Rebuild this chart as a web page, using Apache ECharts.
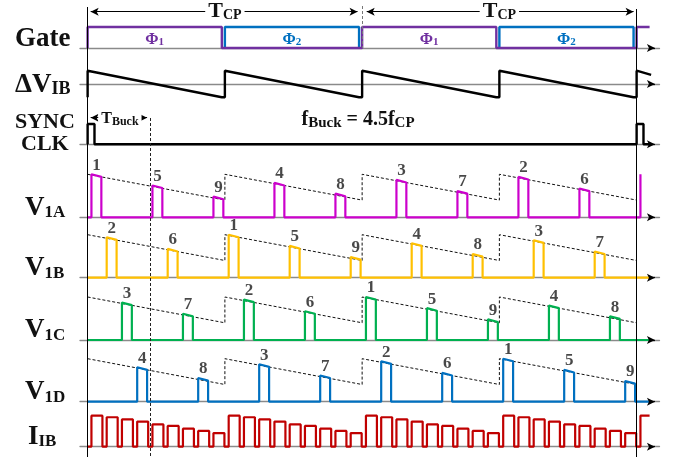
<!DOCTYPE html>
<html><head><meta charset="utf-8">
<script src="https://cdn.jsdelivr.net/npm/echarts@6/dist/echarts.min.js"></script>
<style>html,body{margin:0;padding:0;background:#fff}#c{width:681px;height:462px}</style>
</head><body><div id="c"></div>
<script>
// Time unit: one interleave slot = T_Buck/4 ; T_CP = 18 slots (f_Buck = 4.5 f_CP)
const PHASE_NAMES = ['1', '2', '1', '2'];          // Φ subscript
const PHASE_START = [0, 9, 18, 27];
const PHASE_END   = [8.8, 17.8, 26.8, 35.8];
const GATE_TAIL   = [[36, 0], [36, 1], [36.85, 1]];

const DV_T = [0, 0, 8.8, 9, 9, 17.8, 18, 18, 26.8, 27, 27, 35.8, 36, 36, 36.95];
const DV_V = [-1, 1, -1, -1, 1, -1, -1, 1, -1, -1, 1, -1, -1, 1, 0.68];

const SYNC_T = [0, 0, 0.45, 0.45, 36, 36, 36.45, 36.45, 36.85];
const SYNC_V = [0, 1, 1, 0, 0, 1, 1, 0, 0];

// pulse heights by pulse number 1..9 (normalised to the envelope peak)
const PULSE_HEIGHT = [1.00, 0.94, 0.87, 0.80, 0.74, 0.67, 0.61, 0.55, 0.48];
const IIB_HEIGHT   = [1.00, 0.95, 0.88, 0.81, 0.72, 0.67, 0.58, 0.51, 0.44];
const ENV_T = [0, 9, 9, 18, 18, 27, 27, 36];
const ENV_V = [1.0, 0.40, 1.0, 0.40, 1.0, 0.40, 1.0, 0.40];

const V1A_START = [0.25, 4.25, 8.25, 12.25, 16.25, 20.25, 24.25, 28.25, 32.25];
const V1A_NUM   = [1, 5, 9, 4, 8, 3, 7, 2, 6];
const V1A_TAIL  = [[36.25, 0], [36.25, 1.0]];
const V1B_START = [1.25, 5.25, 9.25, 13.25, 17.25, 21.25, 25.25, 29.25, 33.25];
const V1B_NUM   = [2, 6, 1, 5, 9, 4, 8, 3, 7];
const V1C_START = [2.25, 6.25, 10.25, 14.25, 18.25, 22.25, 26.25, 30.25, 34.25];
const V1C_NUM   = [3, 7, 2, 6, 1, 5, 9, 4, 8];
const V1D_START = [3.25, 7.25, 11.25, 15.25, 19.25, 23.25, 27.25, 31.25, 35.25];
const V1D_NUM   = [4, 8, 3, 7, 2, 6, 1, 5, 9];
const FLAT_TAIL = [[36.85, 0]];

const IIB_START = [0.25,1.25,2.25,3.25,4.25,5.25,6.25,7.25,8.25,9.25,10.25,11.25,12.25,13.25,14.25,15.25,16.25,17.25,
                   18.25,19.25,20.25,21.25,22.25,23.25,24.25,25.25,26.25,27.25,28.25,29.25,30.25,31.25,32.25,33.25,34.25,35.25];
const IIB_NUM   = [1,2,3,4,5,6,7,8,9,1,2,3,4,5,6,7,8,9,1,2,3,4,5,6,7,8,9,1,2,3,4,5,6,7,8,9];
const IIB_TAIL  = [[36.25, 0], [36.25, 1.0], [36.85, 1.0]];

const T_BUCK_MARK = 4.1;
const T_CP_EDGES = [0, 18, 36];

// ---------- layout ----------
const FONT = '"Liberation Serif","Times New Roman",serif';
const X0 = 80, XW = 579.5, XMIN = -0.5, XMAX = 37.5;
const PULSE_W = 0.65, IIB_W = 0.72, DROOP = 0.06;
const ROWS = [ // base pixel, pixels per unit, y range
  {base: 48,    unit: 21,   min: 0,    max: 1},
  {base: 84,    unit: 13.3, min: -1.2, max: 1.2},
  {base: 144.3, unit: 20.3, min: 0,    max: 1},
  {base: 217.3, unit: 43,   min: 0,    max: 1},
  {base: 277.7, unit: 43,   min: 0,    max: 1},
  {base: 340,   unit: 43,   min: 0,    max: 1},
  {base: 401.7, unit: 43,   min: 0,    max: 1},
  {base: 446.7, unit: 31,   min: 0,    max: 1}
];
const C = {p1:'#7030A0', p2:'#0070C0', a:'#CC00CC', b:'#FFC000', c:'#00B050', d:'#0070C0', i:'#C00000'};

const grids = [], xAxes = [], yAxes = [];
ROWS.forEach((r, i) => {
  const top = r.base - r.max * r.unit;
  grids.push({left: X0, top: top, width: XW, height: (r.max - r.min) * r.unit});
  xAxes.push({type:'value', gridIndex:i, min:XMIN, max:XMAX,
    axisLine:{show:true, onZero:true, lineStyle:{color:'#8a8a8a', width:1.3}},
    axisTick:{show:false}, axisLabel:{show:false}, splitLine:{show:false}});
  yAxes.push({type:'value', gridIndex:i, min:r.min, max:r.max, show:false});
});
// overlay grid for annotations (y in page pixels)
grids.push({left: X0, top: 0, width: XW, height: 462});
xAxes.push({type:'value', gridIndex:8, min:XMIN, max:XMAX, show:false});
yAxes.push({type:'value', gridIndex:8, min:0, max:462, inverse:true, show:false});

function lineSeries(i, data, color, width, extra) {
  return Object.assign({type:'line', xAxisIndex:i, yAxisIndex:i, data:data, showSymbol:false, symbol:'none',
    clip:false, silent:true, z:3, lineStyle:{color:color, width:width}}, extra || {});
}
function zip(t, v) { return t.map((x, k) => [x, v[k]]); }
function pulses(starts, nums, heights, w, droop, tail) {
  const d = [[0, 0]];
  starts.forEach((s, k) => { const h = heights[nums[k] - 1]; d.push([s, 0], [s, h], [s + w, h - droop], [s + w, 0]); });
  tail.forEach(p => d.push(p));
  return d;
}
function labels(i, starts, nums) {
  return {type:'scatter', xAxisIndex:i, yAxisIndex:i, silent:true, symbolSize:1, z:5,
    itemStyle:{color:'transparent'},
    data: starts.map((s, k) => [s + PULSE_W / 2, PULSE_HEIGHT[nums[k] - 1], nums[k]]),
    label:{show:true, position:'top', distance:0, formatter: p => String(p.value[2]),
      fontFamily:FONT, fontWeight:'bold', fontSize:17, color:'#1a1a1a'}};
}

const series = [];
// Gate
PHASE_START.forEach((s, k) => {
  if (k % 2 === 1) series.push(lineSeries(0, [[s,0],[s,1],[PHASE_END[k],1],[PHASE_END[k],0]], C.p2, 2.4));
});
(function(){
  const d = [];
  PHASE_START.forEach((s, k) => {
    if (k % 2 === 0) d.push([s,0],[s,1],[PHASE_END[k],1],[PHASE_END[k],0]);
  });
  GATE_TAIL.forEach(p => d.push(p));
  series.push(lineSeries(0, d, C.p1, 2.4, {z:4}));
})();
series.push(lineSeries(1, zip(DV_T, DV_V), '#000', 2.4));
series.push(lineSeries(2, zip(SYNC_T, SYNC_V), '#000', 2.4));

const VROWS = [
  [3, V1A_START, V1A_NUM, C.a, V1A_TAIL],
  [4, V1B_START, V1B_NUM, C.b, FLAT_TAIL],
  [5, V1C_START, V1C_NUM, C.c, FLAT_TAIL],
  [6, V1D_START, V1D_NUM, C.d, FLAT_TAIL]
];
VROWS.forEach(([i, st, nm, col, tail]) => {
  series.push(lineSeries(i, zip(ENV_T, ENV_V), '#111', 1, {z:2, lineStyle:{color:'#111', width:1, type:[3,2]}}));
  series.push(lineSeries(i, pulses(st, nm, PULSE_HEIGHT, PULSE_W, DROOP, tail), col, 2.2));
  series.push(labels(i, st, nm));
});
series.push(lineSeries(7, pulses(IIB_START, IIB_NUM, IIB_HEIGHT, IIB_W, 0, IIB_TAIL), C.i, 2.2));

// annotations
series.push({type:'line', xAxisIndex:8, yAxisIndex:8, data:[[0,-50]], symbol:'none', silent:true, z:6,
  lineStyle:{opacity:0},
  markLine:{silent:true, symbol:['none','none'], label:{show:false}, animation:false,
    lineStyle:{color:'#000', width:1, type:'solid'}, emphasis:{disabled:true},
    data:[
      [{coord:[T_CP_EDGES[0], 7]}, {coord:[T_CP_EDGES[0], 457]}],
      [{coord:[T_CP_EDGES[2], 9]}, {coord:[T_CP_EDGES[2], 457]}],
      [{coord:[T_CP_EDGES[1], 6], lineStyle:{type:[3,2], color:'#777'}}, {coord:[T_CP_EDGES[1], 48]}],
      [{coord:[T_BUCK_MARK, 118], lineStyle:{type:[3,2], color:'#222'}}, {coord:[T_BUCK_MARK, 457]}]
    ]}});
series.push({type:'line', xAxisIndex:8, yAxisIndex:8, data:[[0,-50]], symbol:'none', silent:true, z:6,
  lineStyle:{opacity:0},
  markLine:{silent:true, symbol:['arrow','arrow'], symbolSize:[6,8], label:{show:false}, animation:false,
    lineStyle:{color:'#000', width:1, type:'solid'}, emphasis:{disabled:true},
    data:[
      [{coord:[T_CP_EDGES[0] + 0.2, 11.7]}, {coord:[T_CP_EDGES[1] - 0.3, 11.7]}],
      [{coord:[T_CP_EDGES[1] + 0.3, 11.7]}, {coord:[T_CP_EDGES[2] - 0.2, 11.7]}],
      [{coord:[0.2, 117.7]}, {coord:[T_BUCK_MARK - 0.2, 117.7]}]
    ]}});
series.push({type:'line', xAxisIndex:8, yAxisIndex:8, data:[[0,-50]], symbol:'none', silent:true, z:6,
  lineStyle:{opacity:0},
  markLine:{silent:true, symbol:['none','arrow'], symbolSize:[6,8], label:{show:false}, animation:false,
    lineStyle:{color:'#000', width:1.3, type:'solid'}, emphasis:{disabled:true},
    data: ROWS.map(r => [{coord:[36.85, r.base]}, {coord:[37.2, r.base]}])}});

const chart = echarts.init(document.getElementById('c'), null, {renderer:'canvas', width:681, height:462});
chart.setOption({animation:false, backgroundColor:'#fff', grid:grids, xAxis:xAxes, yAxis:yAxes, series:series});

// ---------- texts ----------
const ctx = document.createElement('canvas').getContext('2d');
function fontOf(p){ return (p.bold === false ? '' : 'bold ') + p.size + 'px ' + FONT; }
function tw(p){ ctx.font = fontOf(p); return ctx.measureText(p.t).width; }
function run(x, parts, opts) {
  opts = opts || {};
  const widths = parts.map(tw);
  const total = widths.reduce((a, b) => a + b, 0);
  let cx = opts.center ? x - total / 2 : x;
  const els = [];
  if (opts.bg) {
    els.push({type:'rect', z:99, silent:true, shape:{x: cx - 3, y: opts.bg[0], width: total + 6, height: opts.bg[1] - opts.bg[0]},
      style:{fill:'#fff'}});
  }
  parts.forEach((p, k) => {
    els.push({type:'text', z:100, silent:true, x: cx, y: p.b - 0.3375 * p.size,
      style:{text:p.t, font:fontOf(p), fill:p.color || '#111', textAlign:'left', textVerticalAlign:'middle', verticalAlign:'middle'}});
    cx += widths[k];
  });
  return els;
}
const px = (t, y) => chart.convertToPixel({xAxisIndex:8, yAxisIndex:8}, [t, y]);
let G = [];
G = G.concat(run(15, [{t:'Gate', size:27, b:48.3}]));
G = G.concat(run(15, [{t:'ΔV', size:27, b:94}, {t:'IB', size:18, b:95.5}]));
G = G.concat(run(15, [{t:'SYNC', size:22, b:130}]));
G = G.concat(run(21, [{t:'CLK', size:22, b:151.7}]));
G = G.concat(run(25, [{t:'V', size:27, b:216.7}, {t:'1A', size:17, b:218.3}]));
G = G.concat(run(25, [{t:'V', size:27, b:277.5}, {t:'1B', size:17, b:279.5}]));
G = G.concat(run(25, [{t:'V', size:27, b:339.5}, {t:'1C', size:17, b:341.5}]));
G = G.concat(run(25, [{t:'V', size:27, b:401}, {t:'1D', size:17, b:403}]));
G = G.concat(run(28, [{t:'I', size:27, b:446}, {t:'IB', size:17, b:447.5}]));
// phase labels
PHASE_START.forEach((s, k) => {
  const col = k % 2 === 0 ? C.p1 : C.p2;
  const cx = px((s + PHASE_END[k]) / 2, 0)[0];
  G = G.concat(run(cx, [{t:'Φ', size:16, b:45, color:col}, {t:PHASE_NAMES[k], size:11, b:45.5, color:col}], {center:true}));
});
// T_CP labels
for (let k = 0; k < 2; k++) {
  const cx = px((T_CP_EDGES[k] + T_CP_EDGES[k + 1]) / 2, 0)[0];
  G = G.concat(run(cx, [{t:'T', size:22, b:18.5}, {t:'CP', size:14, b:20.3}], {center:true, bg:[3, 21]}));
}
// T_Buck label
G = G.concat(run(px(T_BUCK_MARK / 2, 0)[0] + 1, [{t:'T', size:16, b:124}, {t:'Buck', size:12, b:125.5}], {center:true, bg:[110, 127]}));
// f_Buck = 4.5 f_CP
G = G.concat(run(301.5, [{t:'f', size:20, b:126.7}, {t:'Buck', size:15, b:128.5}, {t:' = 4.5f', size:20, b:126.7}, {t:'CP', size:15, b:128.5}]));
chart.setOption({graphic:{elements:G}});
</script></body></html>
